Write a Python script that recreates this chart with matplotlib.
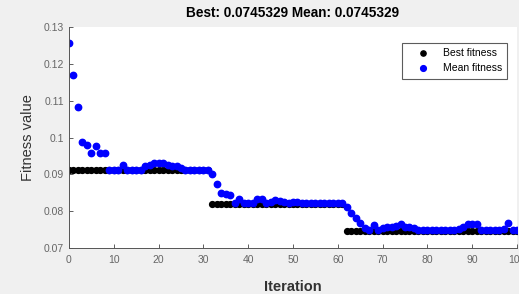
import matplotlib
matplotlib.use("Agg")
import matplotlib.pyplot as plt
import numpy as np

iterations = list(range(0, 101))

best_fitness = [0.0913] * 32 + [0.0819] * 30 + [0.0745] * 39

mean_fitness = [
    0.1257, 0.1170, 0.1082, 0.0987, 0.0980, 0.0958, 0.0976, 0.0958, 0.0958, 0.0913,
    0.0913, 0.0913, 0.0924, 0.0913, 0.0913, 0.0913, 0.0913, 0.0922, 0.0926, 0.0931,
    0.0932, 0.0930, 0.0926, 0.0922, 0.0922, 0.0918, 0.0913, 0.0913, 0.0913, 0.0913,
    0.0913, 0.0913, 0.0902, 0.0875, 0.0850, 0.0847, 0.0843, 0.0822, 0.0834, 0.0821,
    0.0821, 0.0821, 0.0832, 0.0834, 0.0821, 0.0826, 0.0829, 0.0828, 0.0826, 0.0821,
    0.0825, 0.0825, 0.0821, 0.0821, 0.0821, 0.0821, 0.0821, 0.0821, 0.0821, 0.0821,
    0.0821, 0.0821, 0.0810, 0.0795, 0.0782, 0.0768, 0.0753, 0.0749, 0.0762, 0.0749,
    0.0754, 0.0756, 0.0757, 0.0760, 0.0766, 0.0757, 0.0756, 0.0755, 0.0749, 0.0749,
    0.0749, 0.0749, 0.0749, 0.0749, 0.0749, 0.0749, 0.0749, 0.0752, 0.0756, 0.0764,
    0.0765, 0.0764, 0.0749, 0.0749, 0.0749, 0.0749, 0.0749, 0.0752, 0.0767, 0.0749,
    0.0749,
]

x_ticks = [0, 10, 20, 30, 40, 50, 60, 70, 80, 90, 100]
y_ticks = [0.07, 0.08, 0.09, 0.1, 0.11, 0.12, 0.13]
y_tick_labels = ["0.07", "0.08", "0.09", "0.1", "0.11", "0.12", "0.13"]

plt.rcParams['font.family'] = ['Liberation Sans', 'DejaVu Sans']

fig = plt.figure(figsize=(5.19, 2.94), dpi=100, facecolor='#f0f0f0')
ax = fig.add_axes([69 / 519, 46 / 294, 448 / 519, 221 / 294])
ax.set_facecolor('white')

ax.plot(iterations, best_fitness, linestyle='none', marker='o', ms=4.2,
        color='black', label='Best fitness')
ax.plot(iterations, mean_fitness, linestyle='none', marker='o', ms=4.6,
        color='#0000ff', label='Mean fitness')

ax.set_xlim(0, 100)
ax.set_ylim(0.07, 0.13)
ax.set_xticks(x_ticks)
ax.set_yticks(y_ticks)
ax.set_yticklabels(y_tick_labels)
ax.tick_params(direction='in', length=3, width=0.6, colors='#444444',
               labelsize=7.5, labelcolor='#666666')
ax.tick_params(axis='x', pad=5)
for s in ['top', 'right']:
    ax.spines[s].set_visible(False)
for s in ['left', 'bottom']:
    ax.spines[s].set_color('#555555')
    ax.spines[s].set_linewidth(0.7)

ax.set_title('Best: 0.0745329 Mean: 0.0745329', fontsize=9.8, fontweight='bold', pad=7)
ax.set_xlabel('Iteration', fontsize=10.5, fontweight='bold', color='#333333', labelpad=11)
ax.set_ylabel('Fitness value', fontsize=10.5, color='#333333', labelpad=6)

leg = ax.legend(loc='upper right', bbox_to_anchor=(438 / 448, 1 - 16 / 221),
                borderaxespad=0, fontsize=7.5, frameon=True, fancybox=False,
                edgecolor='#333333', handlelength=3.0, handletextpad=0.35,
                borderpad=0.5, labelspacing=0.5, markerscale=0.9)
leg.get_frame().set_linewidth(0.8)

fig.savefig('out.png', dpi=100, facecolor=fig.get_facecolor())
